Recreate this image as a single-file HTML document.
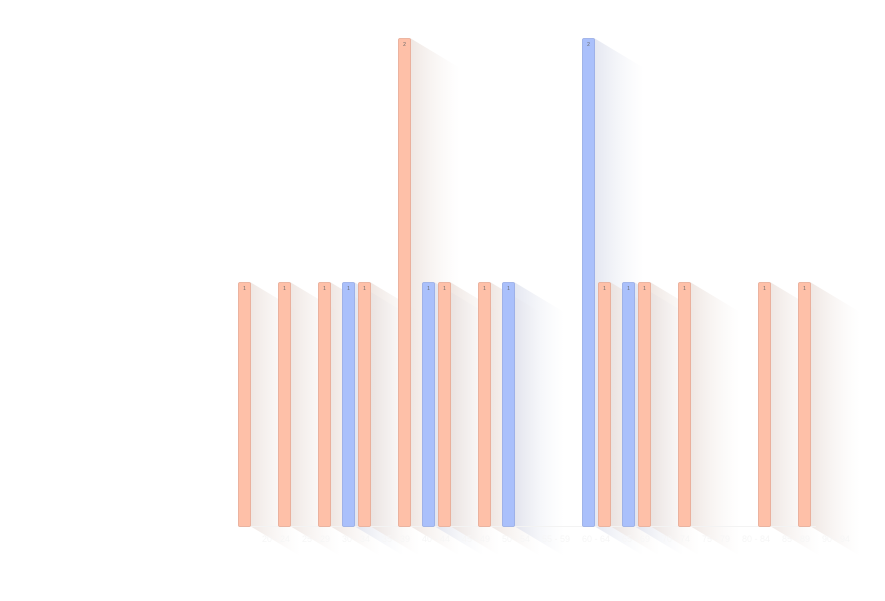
<!DOCTYPE html>
<html><head><meta charset="utf-8"><style>
html,body{margin:0;padding:0;background:#fff;}
svg{display:block;font-family:"Liberation Sans",sans-serif;}
</style></head><body>
<svg id="chart" width="885" height="601" viewBox="0 0 885 601">
<defs>
<linearGradient id="shO" x1="0" y1="0" x2="1" y2="0"><stop offset="0" stop-color="#e8dcd6" stop-opacity="0.7"/><stop offset="1" stop-color="#f4eeeb" stop-opacity="0"/></linearGradient>
<linearGradient id="shB" x1="0" y1="0" x2="1" y2="0"><stop offset="0" stop-color="#d8dcea" stop-opacity="0.7"/><stop offset="1" stop-color="#eceef5" stop-opacity="0"/></linearGradient>
</defs>
<g id="shadows"></g>
<line x1="238" y1="526.5" x2="816" y2="526.5" stroke="#f3f3f3" stroke-width="1"/>
<g id="bars"></g>
<g id="labels"></g>
</svg>
<script>
const categories = ["20 - 24","25 - 29","30 - 34","35 - 39","40 - 44","45 - 49","50 - 54","55 - 59","60 - 64","65 - 69","70 - 74","75 - 79","80 - 84","85 - 89","90 - 94"];
const orangeValues = [1,1,1,1,2,1,1,0,0,1,1,1,0,1,1];
const blueValues = [0,0,1,0,1,0,1,0,2,1,0,0,0,0,0];

const NS="http://www.w3.org/2000/svg";
const x0=238, step=40, barW=12, baseY=526, unit=244;
function xScale(i){return x0+i*step;}
function yScale(v){return baseY-v*unit;}
const bars=document.getElementById('bars'), sh=document.getElementById('shadows'), lab=document.getElementById('labels');

function drawBar(i,v,off,fill,stroke,grad,name){
  if(!v) return;
  const x=xScale(i)+off, y=yScale(v), h=baseY-y;
  const p=document.createElementNS(NS,'polygon');
  p.setAttribute('points',`${x+barW},${y} ${x+barW+50},${y+30} ${x+barW+50},${baseY+30} ${x+barW},${baseY}`);
  p.setAttribute('fill',`url(#${grad})`);
  
  
  sh.appendChild(p);
  const r=document.createElementNS(NS,'rect');
  r.setAttribute('x',x+0.5);r.setAttribute('y',y+0.5);r.setAttribute('width',barW);r.setAttribute('height',h);
  r.setAttribute('rx',1.5);r.setAttribute('fill',fill);r.setAttribute('stroke',stroke);r.setAttribute('stroke-width','0.8');
  
  
  bars.appendChild(r);
  const t=document.createElementNS(NS,'text');
  t.setAttribute('x',x+barW/2+0.5);t.setAttribute('y',y+8);t.setAttribute('font-size','5');
  t.setAttribute('text-anchor','middle');t.setAttribute('fill','#666');
  t.textContent=v;
  
  
  bars.appendChild(t);
}
categories.forEach((c,i)=>{
  drawBar(i,orangeValues[i],0,'#fec0a8','#e6a893','shO','bar-orange-'+c.replace(/ /g,''));
  drawBar(i,blueValues[i],24,'#aac0fb','#94a9e4','shB','bar-blue-'+c.replace(/ /g,''));
  const t=document.createElementNS(NS,'text');
  t.setAttribute('x',xScale(i)+24);t.setAttribute('y',542);t.setAttribute('font-size','9');
  t.setAttribute('fill','#f6f6f6');
  t.textContent=c;
  
  
  lab.appendChild(t);
});
</script>
</body></html>
